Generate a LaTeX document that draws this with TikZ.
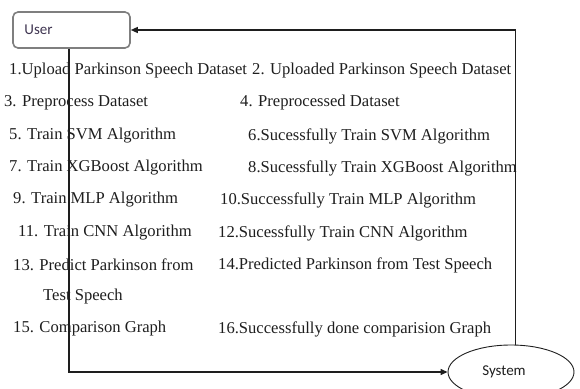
\documentclass[tikz,border=0pt]{standalone}
\usepackage{fontspec}
\setmainfont{Liberation Serif}
\newfontfamily\boxfont{Carlito}
\usetikzlibrary{arrows.meta,shapes.geometric}
\definecolor{inkgray}{HTML}{1E1E1E}
\definecolor{framegray}{HTML}{7F7F7F}
\definecolor{usrtext}{HTML}{3E3450}
\begin{document}
\begin{tikzpicture}[x=1pt,y=-1pt,
  msg/.style={anchor=west,inner sep=0pt,text=inkgray,font=\fontsize{16.6}{20}\selectfont},
  usrbox/.style={draw=framegray,line width=1.6pt,rounded corners=5pt,minimum width=117pt,minimum height=36pt,font=\boxfont\fontsize{15}{18}\selectfont,text=usrtext},
  sysnode/.style={draw=inkgray,ellipse,line width=0.9pt,minimum width=126pt,minimum height=54pt,font=\boxfont\fontsize{15}{18}\selectfont,text=inkgray},
  link/.style={draw=inkgray,line width=1.3pt,-{Triangle[length=7pt,width=6pt]}}]
\useasboundingbox (0,0) rectangle (580,388);

\node[usrbox] (user) at (71.5,30) {\hspace*{-66pt}User};
\node[sysnode] (system) at (511,372) {\hspace*{-14pt}System};

\draw[link] (user.south -| 69,0) |- (system.west);
\draw[link] (system.80) |- (user.east);

\node[msg] (m1) at (9,71) {1.Upload Parkinson Speech Dataset};
\node[msg] (m2) at (252,71) {2. Uploaded Parkinson Speech Dataset};
\node[msg] (m3) at (4,103) {3. Preprocess Dataset};
\node[msg] (m4) at (240,103) {4. Preprocessed Dataset};
\node[msg] (m5) at (9,136) {5. Train SVM Algorithm};
\node[msg] (m6) at (248,136) {6.Sucessfully Train SVM Algorithm};
\node[msg] (m7) at (9,168) {7. Train XGBoost Algorithm};
\node[msg] (m8) at (248,168) {8.Sucessfully Train XGBoost Algorithm};
\node[msg] (m9) at (13,200) {9. Train MLP Algorithm};
\node[msg] (m10) at (220,200) {10.Successfully Train MLP Algorithm};
\node[msg] (m11) at (18,233) {11. Train CNN Algorithm};
\node[msg] (m12) at (218,233) {12.Sucessfully Train CNN Algorithm};
\node[msg] (m13) at (13,265) {13. Predict Parkinson from};
\node[msg] (m13b) at (43,297) {Test Speech};
\node[msg] (m14) at (218,265) {14.Predicted Parkinson from Test Speech};
\node[msg] (m15) at (13,329) {15. Comparison Graph};
\node[msg] (m16) at (218,329) {16.Successfully done comparision Graph};
\end{tikzpicture}
\end{document}
